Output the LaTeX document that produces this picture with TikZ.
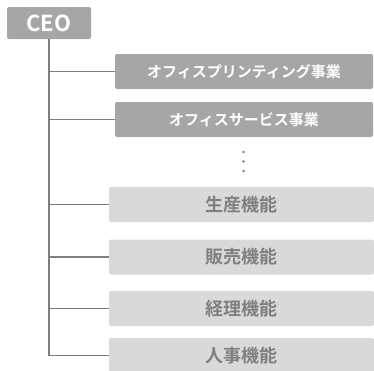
\documentclass[tikz,border=0pt]{standalone}
\usepackage{fontspec}
\setmainfont{Noto Sans CJK JP}[BoldFont={* Bold}]
\newfontfamily\jpfont{Noto Sans CJK JP Bold}
\definecolor{darkbox}{HTML}{A6A6A6}
\definecolor{lightbox}{HTML}{D9D9D9}
\definecolor{linegray}{HTML}{7F7F7F}
\begin{document}
\begin{tikzpicture}[x=1pt,y=-1pt,
  ceobox/.style={fill=darkbox,rounded corners=2pt,minimum width=84pt,minimum height=32pt,inner sep=0pt,text=white,font=\jpfont\fontsize{22}{22}\selectfont},
  bizbox/.style={fill=darkbox,rounded corners=2pt,minimum width=258pt,minimum height=35pt,inner sep=0pt,text=white,font=\jpfont\fontsize{15}{15}\selectfont},
  funcbox/.style={fill=lightbox,rounded corners=2pt,minimum width=265pt,minimum height=35pt,inner sep=0pt,text=linegray,font=\jpfont\fontsize{18}{18}\selectfont},
  link/.style={draw=linegray,line width=1.6pt}]
\useasboundingbox (0,0) rectangle (374,370);
\node[ceobox] (ceo) at (49,23) {CEO};
\node[bizbox] (b1) at (244,71.5) {オフィスプリンティング事業};
\node[bizbox] (b2) at (244,119.5) {オフィスサービス事業};
\node[funcbox] (f1) at (241.5,204.5) {生産機能};
\node[funcbox] (f2) at (241.5,257) {販売機能};
\node[funcbox] (f3) at (241.5,308.5) {経理機能};
\node[funcbox] (f4) at (241.5,355.5) {人事機能};
\foreach \t in {b1,b2,f1,f2,f3,f4}
  \draw[link] (ceo.south) |- (\t.west);
\foreach \yy in {152,161.5,171}
  \fill[linegray] (243.5,\yy) circle (1.4pt);
\end{tikzpicture}
\end{document}
